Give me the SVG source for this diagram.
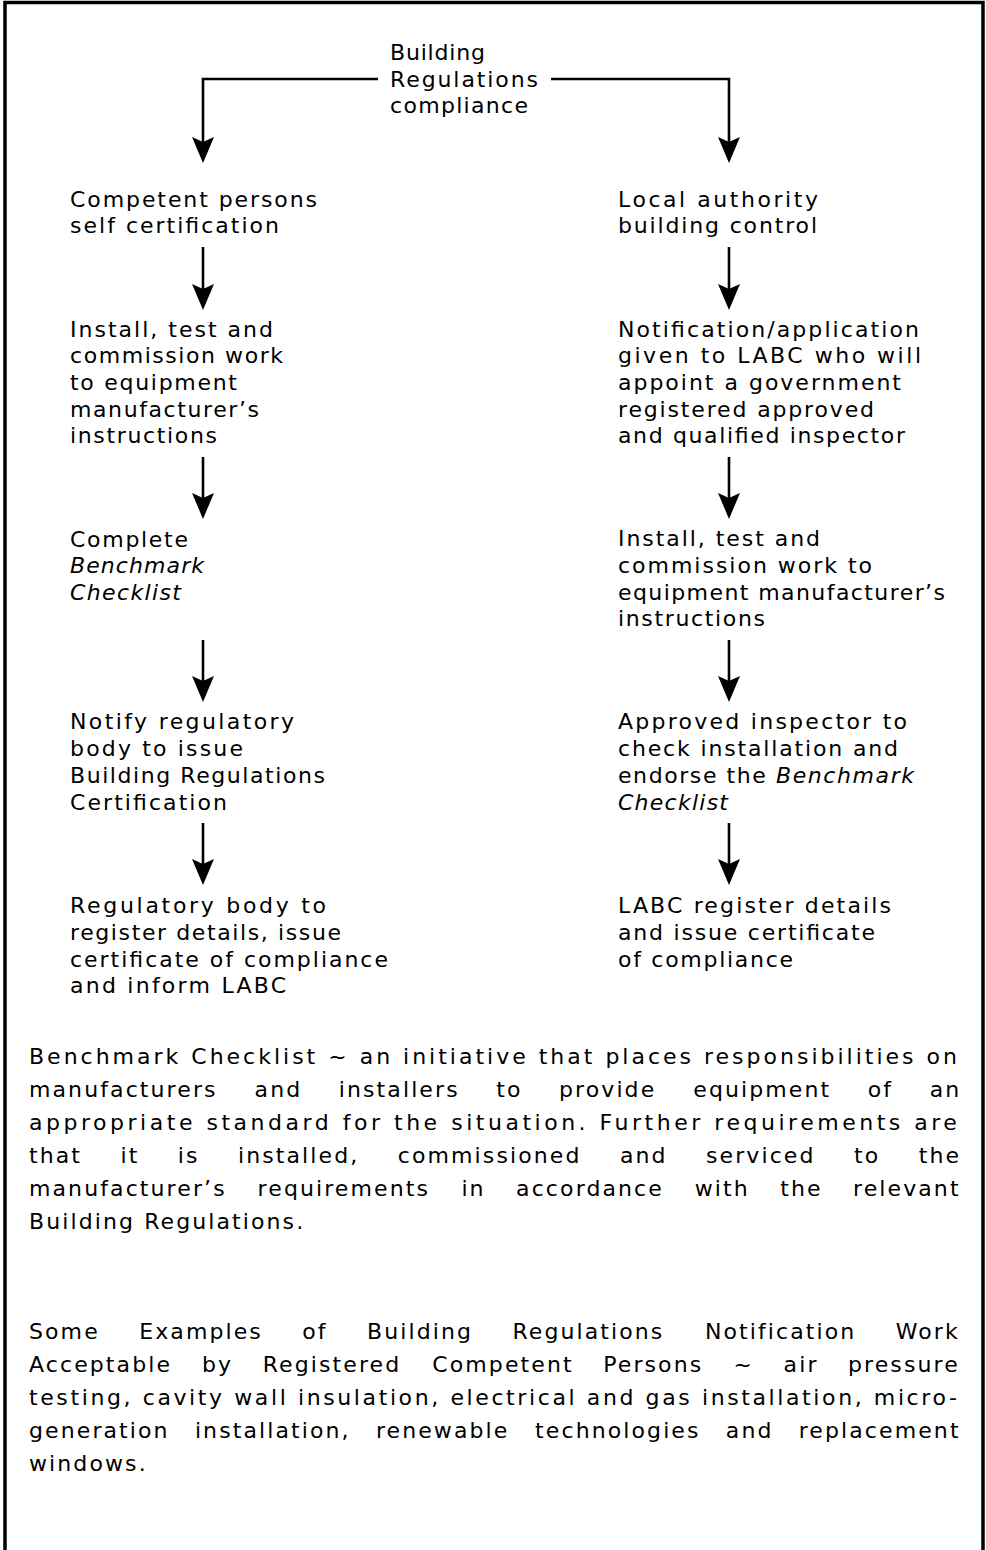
<svg xmlns="http://www.w3.org/2000/svg" width="986" height="1550" viewBox="0 0 986 1550">
<style>
.t{font-family:"DejaVu Sans","Liberation Sans",sans-serif;font-size:22px;fill:#000}
.p{letter-spacing:2.1px}
.i{font-style:italic}
.c{stroke:#000;stroke-width:2.6;fill:none;marker-end:url(#ah)}
.b{stroke:#000;stroke-width:3.5;fill:none}
</style>
<defs>
<marker id="ah" markerUnits="userSpaceOnUse" markerWidth="26" markerHeight="22" viewBox="0 0 26 22" refX="21" refY="11" orient="auto">
<path d="M0,0 L26,11 L0,22 L5,11 Z" fill="#000"/>
</marker>
</defs>
<rect width="986" height="1550" fill="#fff"/>
<path class="b" d="M5,1552 V2.5 H983 V1552"/>

<g id="connectors">
<path class="c" d="M378,79 H203 V158"/>
<path class="c" d="M551,79 H729 V158"/>
<path class="c" d="M203,247 V305"/>
<path class="c" d="M203,457 V514"/>
<path class="c" d="M203,640 V697"/>
<path class="c" d="M203,823 V880"/>
<path class="c" d="M729,247 V305"/>
<path class="c" d="M729,457 V514"/>
<path class="c" d="M729,640 V697"/>
<path class="c" d="M729,823 V880"/>
</g>

<g id="title" class="t">
<text x="390" y="60" textLength="95" lengthAdjust="spacing">Building</text>
<text x="390" y="86.5" textLength="148" lengthAdjust="spacing">Regulations</text>
<text x="390" y="113" textLength="138" lengthAdjust="spacing">compliance</text>
</g>

<g id="competent" class="t">
<text x="70" y="207" textLength="247" lengthAdjust="spacing">Competent persons</text>
<text x="70" y="233" textLength="209" lengthAdjust="spacing">self certification</text>
</g>
<g id="install-left" class="t">
<text x="70" y="337" textLength="203" lengthAdjust="spacing">Install, test and</text>
<text x="70" y="363" textLength="213" lengthAdjust="spacing">commission work</text>
<text x="70" y="390" textLength="167" lengthAdjust="spacing">to equipment</text>
<text x="70" y="417" textLength="189" lengthAdjust="spacing">manufacturer’s</text>
<text x="70" y="443" textLength="147" lengthAdjust="spacing">instructions</text>
</g>
<g id="complete" class="t">
<text x="70" y="547" textLength="118" lengthAdjust="spacing">Complete</text>
<text x="70" y="573" class="i" textLength="134" lengthAdjust="spacing">Benchmark</text>
<text x="70" y="600" class="i" textLength="111" lengthAdjust="spacing">Checklist</text>
</g>
<g id="notify" class="t">
<text x="70" y="729" textLength="224" lengthAdjust="spacing">Notify regulatory</text>
<text x="70" y="756" textLength="173" lengthAdjust="spacing">body to issue</text>
<text x="70" y="783" textLength="255" lengthAdjust="spacing">Building Regulations</text>
<text x="70" y="810" textLength="157" lengthAdjust="spacing">Certification</text>
</g>
<g id="regulatory" class="t">
<text x="70" y="913" textLength="256" lengthAdjust="spacing">Regulatory body to</text>
<text x="70" y="940" textLength="271" lengthAdjust="spacing">register details, issue</text>
<text x="70" y="967" textLength="318" lengthAdjust="spacing">certificate of compliance</text>
<text x="70" y="993" textLength="216" lengthAdjust="spacing">and inform LABC</text>
</g>

<g id="local" class="t">
<text x="618" y="207" textLength="200" lengthAdjust="spacing">Local authority</text>
<text x="618" y="233" textLength="199" lengthAdjust="spacing">building control</text>
</g>
<g id="notification" class="t">
<text x="618" y="337" textLength="301" lengthAdjust="spacing">Notification/application</text>
<text x="618" y="363" textLength="303" lengthAdjust="spacing">given to LABC who will</text>
<text x="618" y="390" textLength="283" lengthAdjust="spacing">appoint a government</text>
<text x="618" y="417" textLength="256" lengthAdjust="spacing">registered approved</text>
<text x="618" y="443" textLength="287" lengthAdjust="spacing">and qualified inspector</text>
</g>
<g id="install-right" class="t">
<text x="618" y="546" textLength="202" lengthAdjust="spacing">Install, test and</text>
<text x="618" y="573" textLength="254" lengthAdjust="spacing">commission work to</text>
<text x="618" y="600" textLength="327" lengthAdjust="spacing">equipment manufacturer’s</text>
<text x="618" y="626" textLength="147" lengthAdjust="spacing">instructions</text>
</g>
<g id="approved" class="t">
<text x="618" y="729" textLength="289" lengthAdjust="spacing">Approved inspector to</text>
<text x="618" y="756" textLength="280" lengthAdjust="spacing">check installation and</text>
<text x="618" y="783" textLength="296" lengthAdjust="spacing">endorse the <tspan class="i">Benchmark</tspan></text>
<text x="618" y="810" class="i" textLength="110" lengthAdjust="spacing">Checklist</text>
</g>
<g id="labc" class="t">
<text x="618" y="913" textLength="273" lengthAdjust="spacing">LABC register details</text>
<text x="618" y="940" textLength="257" lengthAdjust="spacing">and issue certificate</text>
<text x="618" y="967" textLength="175" lengthAdjust="spacing">of compliance</text>
</g>

<g id="note-benchmark" class="t p">
<text x="29" y="1064" textLength="930" lengthAdjust="spacing">Benchmark Checklist ~ an initiative that places responsibilities on</text>
<text y="1097"><tspan x="29">manufacturers</tspan><tspan x="254.6">and</tspan><tspan x="338.8">installers</tspan><tspan x="496.2">to</tspan><tspan x="559">provide</tspan><tspan x="693.3">equipment</tspan><tspan x="867.8">of</tspan><tspan x="929.7">an</tspan></text>
<text x="29" y="1130" textLength="930" lengthAdjust="spacing">appropriate standard for the situation. Further requirements are</text>
<text y="1163"><tspan x="29">that</tspan><tspan x="120.5">it</tspan><tspan x="177.8">is</tspan><tspan x="238">installed,</tspan><tspan x="397.8">commissioned</tspan><tspan x="619.9">and</tspan><tspan x="706">serviced</tspan><tspan x="854">to</tspan><tspan x="918.7">the</tspan></text>
<text y="1196"><tspan x="29">manufacturer’s</tspan><tspan x="257.6">requirements</tspan><tspan x="461.4">in</tspan><tspan x="516.1">accordance</tspan><tspan x="694.7">with</tspan><tspan x="780.2">the</tspan><tspan x="853">relevant</tspan></text>
<text x="29" y="1229">Building Regulations.</text>
</g>

<g id="note-examples" class="t p">
<text y="1339"><tspan x="29">Some</tspan><tspan x="139.2">Examples</tspan><tspan x="302.2">of</tspan><tspan x="367">Building</tspan><tspan x="512.4">Regulations</tspan><tspan x="704.9">Notification</tspan><tspan x="895.7">Work</tspan></text>
<text y="1372"><tspan x="29">Acceptable</tspan><tspan x="202">by</tspan><tspan x="262.7">Registered</tspan><tspan x="432.3">Competent</tspan><tspan x="603.2">Persons</tspan><tspan x="733.6">~</tspan><tspan x="783.6">air</tspan><tspan x="848">pressure</tspan></text>
<text x="29" y="1405" textLength="930" lengthAdjust="spacing">testing, cavity wall insulation, electrical and gas installation, micro-</text>
<text y="1438"><tspan x="29">generation</tspan><tspan x="194.9">installation,</tspan><tspan x="375.9">renewable</tspan><tspan x="535.1">technologies</tspan><tspan x="725.8">and</tspan><tspan x="798.7">replacement</tspan></text>
<text x="29" y="1471">windows.</text>
</g>
</svg>
